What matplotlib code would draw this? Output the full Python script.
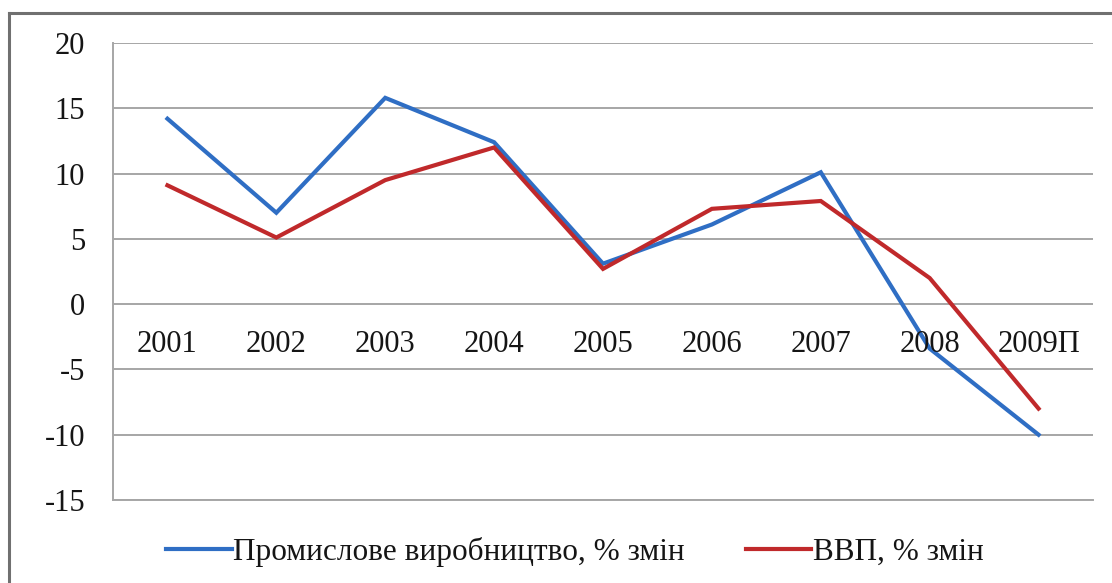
import matplotlib
matplotlib.use("Agg")
import matplotlib.pyplot as plt
from matplotlib.lines import Line2D

plt.rcParams['font.family'] = ['Liberation Serif', 'DejaVu Serif']
plt.rcParams['axes.unicode_minus'] = False

years = ['2001', '2002', '2003', '2004', '2005', '2006', '2007', '2008', '2009П']
industry = [14.2, 7.0, 15.8, 12.4, 3.1, 6.1, 10.1, -3.4, -10.0]
gdp = [9.1, 5.1, 9.5, 12.0, 2.7, 7.3, 7.9, 2.0, -8.0]
series_names = ['Промислове виробництво, % змін', 'ВВП, % змін']

blue = '#2F6EC4'
red = '#C0292B'
grid_c = '#A6A6A6'
text_c = '#151515'

fig = plt.figure(figsize=(11.12, 5.83), dpi=100)
ax = fig.add_axes([113 / 1112, 1 - 500 / 583, 980 / 1112, 457 / 583])

x = list(range(len(years)))
ax.plot(x, industry, color=blue, lw=3.0, solid_joinstyle='miter', label=series_names[0], zorder=3)
ax.plot(x, gdp, color=red, lw=3.0, solid_joinstyle='miter', label=series_names[1], zorder=3)

ax.set_xlim(-0.5, len(years) - 0.5)
ax.set_ylim(-15, 20)
ax.set_yticks(range(-15, 21, 5))
ax.yaxis.grid(True, color=grid_c, lw=1.4)
ax.set_axisbelow(True)

for side in ('top', 'right'):
    ax.spines[side].set_visible(False)
ax.spines['left'].set_color(grid_c)
ax.spines['left'].set_linewidth(1.4)
ax.spines['bottom'].set_color(grid_c)
ax.spines['bottom'].set_linewidth(1.4)

ax.tick_params(axis='y', length=0, pad=20, labelsize=22, colors=text_c)

# category labels sit just below the zero line
ax.set_xticks(x)
ax.set_xticklabels([])
ax.tick_params(axis='x', length=0)
for xi, lab in zip(x, years):
    ax.annotate(lab, (xi, 0), xytext=(0, -40), textcoords='offset pixels',
                ha='center', va='center', fontsize=22, color=text_c)

handles = [Line2D([], [], color=blue, lw=3.0), Line2D([], [], color=red, lw=3.0)]
leg = fig.legend(handles, series_names, loc='center left', bbox_to_anchor=(166 / 1112, 1 - 552 / 583),
                 ncol=2, frameon=False, fontsize=22.5, handlelength=2.1, handletextpad=0.05,
                 columnspacing=1.95, borderpad=0, borderaxespad=0)
for t in leg.get_texts():
    t.set_color(text_c)

# outer chart frame
fig.add_artist(Line2D([9 / 1112, 9 / 1112], [0, 1 - 13 / 583], color='#707070', lw=2.2,
                      transform=fig.transFigure))
fig.add_artist(Line2D([9 / 1112, 1], [1 - 13 / 583, 1 - 13 / 583], color='#707070', lw=2.2,
                      transform=fig.transFigure))

fig.savefig('out.png', dpi=100)
